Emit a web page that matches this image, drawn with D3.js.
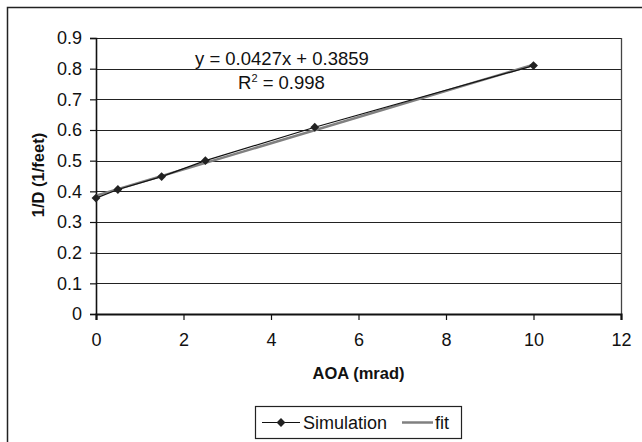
<!DOCTYPE html>
<html>
<head>
<meta charset="utf-8">
<script src="https://cdn.jsdelivr.net/npm/d3@7"></script>
<style>
  html, body { margin: 0; padding: 0; background: #fff; }
  svg { display: block; }
  text { font-family: Arial, "Liberation Sans", sans-serif; fill: #111; }
</style>
</head>
<body>
<svg id="chart" width="642" height="442"></svg>
<script>
// ---- data ----
const aoa = [0, 0.5, 1.5, 2.5, 5, 10];
const invD = [0.378, 0.406, 0.448, 0.500, 0.609, 0.810];
const fitSlope = 0.0427;
const fitIntercept = 0.3859;
const fitRange = [0, 10];
const xTicks = [0, 2, 4, 6, 8, 10, 12];
const yTicks = [0, 0.1, 0.2, 0.3, 0.4, 0.5, 0.6, 0.7, 0.8, 0.9];
const xTitle = "AOA (mrad)";
const yTitle = "1/D (1/feet)";
const eqText = "y = 0.0427x + 0.3859";
const r2Value = "0.998";
const seriesNames = ["Simulation", "fit"];

// ---- layout ----
const svg = d3.select("#chart");
const plot = { left: 96, right: 621, top: 38, bottom: 314 };

// outer frame
svg.append("rect")
  .attr("x", 7.5).attr("y", 7.5)
  .attr("width", 660).attr("height", 460)
  .attr("fill", "none").attr("stroke", "#222").attr("stroke-width", 1.5);

const x = d3.scaleLinear().domain([0, 12]).range([plot.left, plot.right]);
const y = d3.scaleLinear().domain([0, 0.9]).range([plot.bottom, plot.top]);

// gridlines
svg.append("g").selectAll("line")
  .data(yTicks.filter(d => d > 0))
  .join("line")
  .attr("x1", plot.left).attr("x2", plot.right)
  .attr("y1", d => Math.round(y(d)) + 0.5).attr("y2", d => Math.round(y(d)) + 0.5)
  .attr("stroke", "#222").attr("stroke-width", 1.2);

// plot area right border
svg.append("line")
  .attr("x1", plot.right + 0.5).attr("x2", plot.right + 0.5)
  .attr("y1", plot.top).attr("y2", plot.bottom)
  .attr("stroke", "#444").attr("stroke-width", 1.3);

const fontFam = "Arial, 'Liberation Sans', sans-serif";

// y axis
const yAxis = d3.axisLeft(y).tickValues(yTicks).tickSize(6).tickPadding(8)
  .tickFormat(d => d === 0 ? "0" : d3.format(".1f")(d));
const gy = svg.append("g").attr("transform", `translate(${plot.left},0)`).call(yAxis);
gy.select(".domain").attr("stroke", "#111").attr("stroke-width", 1.6);
gy.selectAll(".tick line").attr("stroke", "#111").attr("stroke-width", 1.2);
gy.selectAll(".tick text").attr("font-size", 18).attr("fill", "#111")
  .style("font-family", fontFam);

// x axis
const xAxis = d3.axisBottom(x).tickValues(xTicks).tickSize(6).tickPadding(13);
const gx = svg.append("g").attr("transform", `translate(0,${plot.bottom})`).call(xAxis);
gx.select(".domain").attr("stroke", "#111").attr("stroke-width", 2.2);
gx.selectAll(".tick line").attr("stroke", "#111").attr("stroke-width", 1.2);
gx.selectAll(".tick text").attr("font-size", 18).attr("fill", "#111")
  .style("font-family", fontFam);

// axis titles
svg.append("text")
  .attr("x", (plot.left + plot.right) / 2).attr("y", 379)
  .attr("text-anchor", "middle").attr("font-size", 16.5).attr("font-weight", "bold")
  .text(xTitle);
svg.append("text")
  .attr("transform", `translate(44,175) rotate(-90)`)
  .attr("text-anchor", "middle").attr("font-size", 16.5).attr("font-weight", "bold")
  .text(yTitle);

// fit line
const fitData = fitRange.map(v => [v, fitSlope * v + fitIntercept]);
svg.append("path")
  .datum(fitData)
  .attr("d", d3.line().x(d => x(d[0])).y(d => y(d[1])))
  .attr("fill", "none").attr("stroke", "#808080").attr("stroke-width", 2.5);

// simulation line + markers
const simData = aoa.map((v, i) => [v, invD[i]]);
svg.append("path")
  .datum(simData)
  .attr("d", d3.line().x(d => x(d[0])).y(d => y(d[1])))
  .attr("fill", "none").attr("stroke", "#111").attr("stroke-width", 1.2);

const diamond = d3.symbol().type(d3.symbolDiamond2).size(50);
svg.append("g").selectAll("path")
  .data(simData)
  .join("path")
  .attr("transform", d => `translate(${x(d[0])},${y(d[1])})`)
  .attr("d", diamond)
  .attr("fill", "#222");

// equation labels
svg.append("text")
  .attr("x", 195).attr("y", 65)
  .attr("font-size", 18.5)
  .text(eqText);
const r2 = svg.append("text")
  .attr("x", 238).attr("y", 89)
  .attr("font-size", 18.5);
r2.append("tspan").text("R");
r2.append("tspan").attr("font-size", 11).attr("dy", -7).text("2");
r2.append("tspan").attr("dy", 7).text(" = " + r2Value);

// legend
const lg = svg.append("g");
lg.append("rect")
  .attr("x", 255.5).attr("y", 406.5).attr("width", 206).attr("height", 32)
  .attr("fill", "#fff").attr("stroke", "#222").attr("stroke-width", 1.2);
lg.append("line")
  .attr("x1", 262).attr("x2", 300).attr("y1", 422.5).attr("y2", 422.5)
  .attr("stroke", "#111").attr("stroke-width", 1.2);
lg.append("path")
  .attr("transform", "translate(281,422.5)")
  .attr("d", diamond).attr("fill", "#222");
lg.append("text").attr("x", 303).attr("y", 429).attr("font-size", 18).text(seriesNames[0]);
lg.append("line")
  .attr("x1", 402).attr("x2", 433).attr("y1", 422.5).attr("y2", 422.5)
  .attr("stroke", "#808080").attr("stroke-width", 2.5);
lg.append("text").attr("x", 435).attr("y", 429).attr("font-size", 18).text(seriesNames[1]);
</script>
</body>
</html>
